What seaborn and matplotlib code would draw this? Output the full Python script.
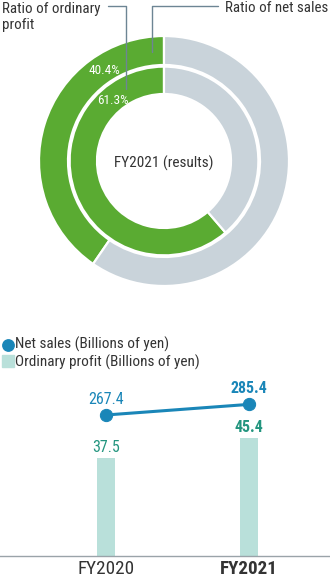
import numpy as np
import matplotlib
matplotlib.use("Agg")
import matplotlib.pyplot as plt
from matplotlib.lines import Line2D
import seaborn as sns

# ---- data ----
ring_labels = ["Ratio of net sales", "Ratio of ordinary\nprofit"]
net_sales_ratio = [40.4, 100 - 40.4]        # outer ring
ordinary_profit_ratio = [61.3, 100 - 61.3]  # inner ring
ring_title = "FY2021 (results)"

years = ["FY2020", "FY2021"]
net_sales = [267.4, 285.4]
ordinary_profit = [37.5, 45.4]
legend_labels = ["Net sales (Billions of yen)", "Ordinary profit (Billions of yen)"]

# ---- style ----
GREEN = "#5aab32"
GREY = "#c9d3da"
TEAL_BAR = "#b9e0da"
TEAL_TXT = "#23957f"
BLUE = "#1a86b8"
LEADER = "#6d8594"
TXT = "#333333"

sns.set_theme(style="white")
plt.rcParams["font.family"] = ["Roboto Condensed", "Roboto", "DejaVu Sans"]

W, H = 330, 579
fig = plt.figure(figsize=(W / 100, H / 100), dpi=100)


def fx(px):
    return px / W


def fy(py):
    return 1 - py / H


# ---- donut ----
cx, cy, R = 164, 161, 125
ax_pie = fig.add_axes([fx(cx - R), fy(cy + R), 2 * R / W, 2 * R / H])
ax_pie.pie(net_sales_ratio, radius=1.0, colors=[GREEN, GREY], startangle=90,
           counterclock=True,
           wedgeprops=dict(width=0.232, edgecolor="white", linewidth=1.6))
ax_pie.pie(ordinary_profit_ratio, radius=0.755, colors=[GREEN, GREY], startangle=90,
           counterclock=True,
           wedgeprops=dict(width=0.219, edgecolor="white", linewidth=1.6))
ax_pie.set_xlim(-1, 1)
ax_pie.set_ylim(-1, 1)
ax_pie.set_aspect("equal")
ax_pie.axis("off")

ax_pie.text(-0.48, 0.728, f"{net_sales_ratio[0]}%", color="white", fontsize=9.5,
            ha="center", va="center")
ax_pie.text(-0.41, 0.48, f"{ordinary_profit_ratio[0]}%", color="white", fontsize=9.5,
            ha="center", va="center")
ax_pie.text(0, -0.02, ring_title, color=TXT, fontsize=11, ha="center", va="center")

# leader lines and ring labels
fig.add_artist(Line2D([fx(108), fx(126), fx(126)], [fy(5.5), fy(5.5), fy(89)],
                      color=LEADER, lw=1.0, transform=fig.transFigure))
fig.add_artist(Line2D([fx(152), fx(152), fx(218)], [fy(52), fy(5.5), fy(5.5)],
                      color=LEADER, lw=1.0, transform=fig.transFigure))
fig.text(fx(2), fy(17), ring_labels[1], color=TXT, fontsize=10.8,
         ha="left", va="center", linespacing=1.15)
fig.text(fx(328), fy(8), ring_labels[0], color=TXT, fontsize=10.8,
         ha="right", va="center")

# ---- bar + line ----
base_px, top_px = 556, 300
ax = fig.add_axes([0, fy(base_px), 1, (base_px - top_px) / H])
sns.barplot(x=years, y=ordinary_profit, ax=ax, color=TEAL_BAR, width=0.126,
            saturation=1, edgecolor="none")
bar_scale = 2.61  # px per billion yen
ax.set_ylim(0, (base_px - top_px) / bar_scale)

x0_px, x1_px = 106, 249
step = x1_px - x0_px
xlim = (-x0_px / step, 1 + (W - x1_px) / step)
ax.set_xlim(*xlim)

ax2 = ax.twinx()
xs = np.arange(len(years))
sns.lineplot(x=xs, y=net_sales, ax=ax2, color=BLUE, lw=2.2, marker="o",
             markersize=8.8, markeredgecolor=BLUE, markerfacecolor=BLUE)
line_scale = 0.59
line_base = 415 + net_sales[0] * line_scale
ax2.set_ylim((line_base - base_px) / line_scale, (line_base - top_px) / line_scale)
ax2.set_xlim(*xlim)

for a in (ax, ax2):
    for s in ("top", "right", "left"):
        a.spines[s].set_visible(False)
    a.set_yticks([])
    a.set_ylabel("")
ax2.spines["bottom"].set_visible(False)
ax.spines["bottom"].set_color("#9aa3a9")
ax.spines["bottom"].set_linewidth(1.0)

ax.set_xticks(xs)
ax.set_xticklabels(years)
ax.tick_params(axis="x", length=0, pad=3, labelsize=13.8, labelcolor=TXT)
for i, lab in enumerate(ax.get_xticklabels()):
    if i == len(years) - 1:
        lab.set_fontweight("bold")

last = len(years) - 1
for i, (v, p) in enumerate(zip(net_sales, ordinary_profit)):
    w = "bold" if i == last else "normal"
    ax2.annotate(f"{v}", (i, v), xytext=(0, 6), textcoords="offset points",
                 ha="center", va="bottom", color=BLUE, fontsize=11.5, fontweight=w)
    ax.annotate(f"{p}", (i, p), xytext=(0, 2), textcoords="offset points",
                ha="center", va="bottom", color=TEAL_TXT, fontsize=11.5, fontweight=w)

# legend
fig.add_artist(Line2D([fx(7.5)], [fy(345)], marker="o", markersize=8.2, color=BLUE,
                      lw=0, transform=fig.transFigure))
fig.add_artist(Line2D([fx(7.5)], [fy(361)], marker="s", markersize=8, color=TEAL_BAR,
                      lw=0, transform=fig.transFigure))
fig.text(fx(15), fy(344), legend_labels[0], color=TXT, fontsize=11, ha="left", va="center")
fig.text(fx(15), fy(362), legend_labels[1], color=TXT, fontsize=11, ha="left", va="center")

fig.savefig("out.png", dpi=100)
